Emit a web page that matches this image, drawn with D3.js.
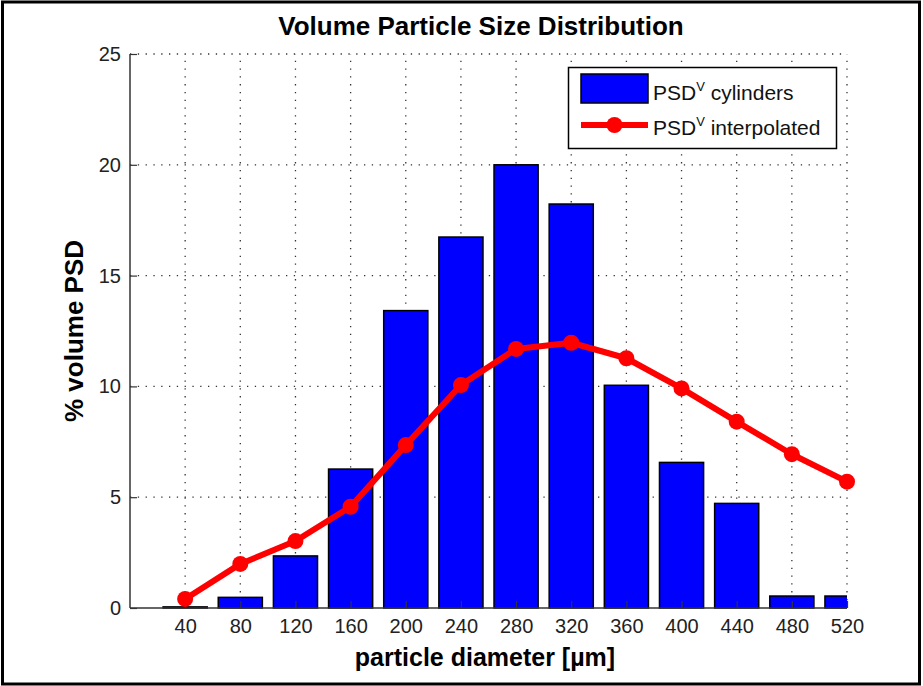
<!DOCTYPE html>
<html><head><meta charset="utf-8">
<script src="https://cdn.jsdelivr.net/npm/d3@7"></script>
<style>body{margin:0;background:#fff;} svg{display:block;font-family:"Liberation Sans",Arial,sans-serif;}</style>
</head><body>
<svg id="c" width="923" height="686"></svg>
<script>
const diameters = [40, 80, 120, 160, 200, 240, 280, 320, 360, 400, 440, 480, 520];
const cylinders = [0.05, 0.48, 2.35, 6.27, 13.42, 16.74, 20.0, 18.23, 10.05, 6.57, 4.72, 0.54, 0.54];
const interpolated = [0.41, 1.99, 3.02, 4.57, 7.35, 10.06, 11.69, 11.97, 11.27, 9.91, 8.41, 6.94, 5.70];
const xTicks = [40, 80, 120, 160, 200, 240, 280, 320, 360, 400, 440, 480, 520];
const yTicks = [0, 5, 10, 15, 20, 25];
const title = "Volume Particle Size Distribution";
const xLabel = "particle diameter [\u00b5m]";
const yLabel = "% volume PSD";
const legendItems = ["cylinders", "interpolated"];

const svg = d3.select("#c");
const L = 130, R = 847, T = 54, B = 608;
const x = d3.scaleLinear().domain([0, 520]).range([L, R]);
const y = d3.scaleLinear().domain([0, 25]).range([B, T]);
const barW = x(32) - x(0);

// outer frame
svg.append("rect").attr("x", 2.5).attr("y", 2).attr("width", 917).attr("height", 682)
  .attr("fill", "none").attr("stroke", "#000").attr("stroke-width", 3);

svg.append("defs").append("clipPath").attr("id", "pc")
  .append("rect").attr("x", L).attr("y", T - 1).attr("width", R - L).attr("height", B - T + 2);

// gridlines
const grid = svg.append("g").attr("stroke", "#333").attr("stroke-width", 1.3)
  .attr("stroke-dasharray", "1.3,6.5");
grid.selectAll(".gx").data(xTicks).join("line")
  .attr("x1", d => x(d)).attr("x2", d => x(d)).attr("y1", B).attr("y2", T);
grid.selectAll(".gy").data(yTicks.filter(d => d > 0)).join("line")
  .attr("x1", L).attr("x2", R).attr("y1", d => y(d)).attr("y2", d => y(d));

// bars
svg.append("g").attr("clip-path", "url(#pc)").selectAll("rect").data(diameters).join("rect")
  .attr("x", (d) => x(d) - barW / 2).attr("width", barW)
  .attr("y", (d, i) => y(cylinders[i])).attr("height", (d, i) => y(0) - y(cylinders[i]))
  .attr("fill", "#0000ff").attr("stroke", "#000").attr("stroke-width", 1.5);

// axes
const yAxis = d3.axisLeft(y).tickValues(yTicks).tickSize(-7).tickPadding(9);
const gy = svg.append("g").attr("transform", `translate(${L},0)`).call(yAxis);
const xAxis = d3.axisBottom(x).tickValues(xTicks).tickSize(-7).tickPadding(11);
const gx = svg.append("g").attr("transform", `translate(0,${B})`).call(xAxis);
[gx, gy].forEach(g => {
  g.select(".domain").attr("stroke", "#333").attr("stroke-width", 1.5);
  g.selectAll(".tick line").attr("stroke", "#333").attr("stroke-width", 1.2);
  g.selectAll("text").attr("font-size", 20).attr("fill", "#222")
    .attr("font-family", "'Liberation Sans',Arial,sans-serif");
});
gx.select(".domain").attr("d", `M${L},0H${R}`);
gy.select(".domain").attr("d", `M0,${B}V${T}`);

// line
const line = d3.line().x((d, i) => x(diameters[i])).y(d => y(d));
svg.append("path").datum(interpolated).attr("d", line)
  .attr("fill", "none").attr("stroke", "#ff0000").attr("stroke-width", 6).attr("stroke-linejoin", "round");
svg.append("g").selectAll("circle").data(interpolated).join("circle")
  .attr("cx", (d, i) => x(diameters[i])).attr("cy", d => y(d)).attr("r", 8).attr("fill", "#ff0000");

// titles
svg.append("text").attr("x", 481).attr("y", 35).attr("text-anchor", "middle")
  .attr("font-size", 26).attr("font-weight", "bold").text(title);
svg.append("text").attr("x", 485).attr("y", 666).attr("text-anchor", "middle")
  .attr("font-size", 25).attr("font-weight", "bold").text(xLabel);
svg.append("text").attr("transform", "translate(83,331) rotate(-90)").attr("text-anchor", "middle")
  .attr("font-size", 26).attr("font-weight", "bold").text(yLabel);

// legend
const lg = svg.append("g");
lg.append("rect").attr("x", 568.5).attr("y", 67.5).attr("width", 268).attr("height", 81)
  .attr("fill", "#fff").attr("stroke", "#000").attr("stroke-width", 1.5);
lg.append("rect").attr("x", 581).attr("y", 74).attr("width", 67).attr("height", 29)
  .attr("fill", "#0000ff").attr("stroke", "#000").attr("stroke-width", 1.5);
lg.append("line").attr("x1", 581).attr("x2", 648).attr("y1", 125).attr("y2", 125)
  .attr("stroke", "#ff0000").attr("stroke-width", 6);
lg.append("circle").attr("cx", 614.5).attr("cy", 125).attr("r", 8).attr("fill", "#ff0000");
legendItems.forEach((t, i) => {
  const tx = lg.append("text").attr("x", 653).attr("y", 100 + i * 35).attr("font-size", 21).attr("fill", "#111");
  tx.append("tspan").text("PSD");
  tx.append("tspan").attr("font-size", 13).attr("dy", -9).text("V");
  tx.append("tspan").attr("dy", 9).text(" " + t);
});
</script>
</body></html>
